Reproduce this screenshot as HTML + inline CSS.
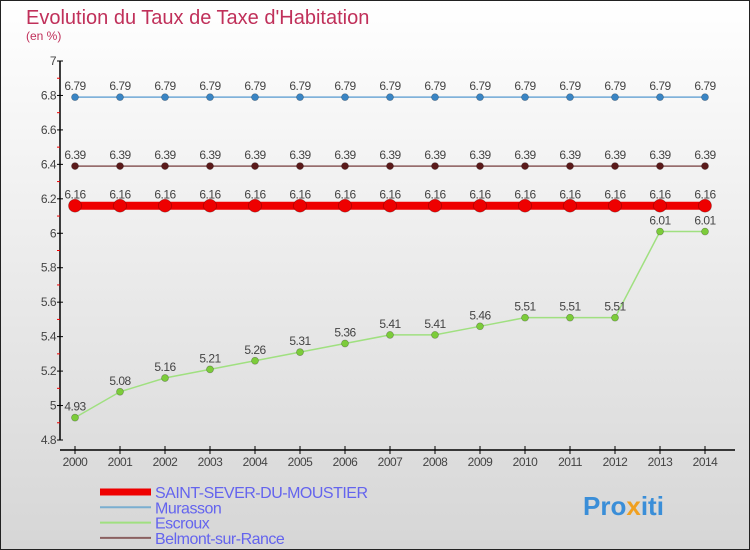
<!DOCTYPE html>
<html><head><meta charset="utf-8"><style>
body{margin:0}
#c{width:750px;height:550px;position:relative;background:linear-gradient(#ffffff,#d6d6d6);box-sizing:border-box;border:1px solid #222;overflow:hidden;font-family:"Liberation Sans","DejaVu Sans",sans-serif}
</style></head><body>
<div id="c">
<svg id="s" width="750" height="550" style="position:absolute;left:-1px;top:-1px">
<text x="26" y="24" font-size="20" fill="#c0305a">Evolution du Taux de Taxe d'Habitation</text>
<text x="26" y="40" font-size="12" fill="#c0305a">(en %)</text>
<g id="axes"></g><g id="series"></g><g id="legend"></g>
<text x="583" y="515" font-size="26" font-weight="bold" fill="#3a8ed8">Pro<tspan fill="#f0a020">x</tspan>iti</text>
</svg>
</div>
<script>
const years=[2000,2001,2002,2003,2004,2005,2006,2007,2008,2009,2010,2011,2012,2013,2014];
const yTicks=[4.8,5,5.2,5.4,5.6,5.8,6,6.2,6.4,6.6,6.8,7];
const saint=[6.16,6.16,6.16,6.16,6.16,6.16,6.16,6.16,6.16,6.16,6.16,6.16,6.16,6.16,6.16];
const murasson=[6.79,6.79,6.79,6.79,6.79,6.79,6.79,6.79,6.79,6.79,6.79,6.79,6.79,6.79,6.79];
const escroux=[4.93,5.08,5.16,5.21,5.26,5.31,5.36,5.41,5.41,5.46,5.51,5.51,5.51,6.01,6.01];
const belmont=[6.39,6.39,6.39,6.39,6.39,6.39,6.39,6.39,6.39,6.39,6.39,6.39,6.39,6.39,6.39];
const NS='http://www.w3.org/2000/svg';
const X=i=>75+i*45, Y=v=>440-(v-4.8)/2.2*379;
function mk(p,t,a){const e=document.createElementNS(NS,t);for(const k in a)e.setAttribute(k,a[k]);p.appendChild(e);return e;}
const ax=document.getElementById('axes');
let e=mk(ax,'line',{x1:60,y1:61,x2:60,y2:440,stroke:'#000','stroke-width':1.5});

e=mk(ax,'line',{x1:60,y1:450,x2:735,y2:450,stroke:'#000','stroke-width':1.5});

yTicks.forEach((v,i)=>{
 mk(ax,'line',{x1:57,y1:Y(v),x2:63,y2:Y(v),stroke:'#000'});
 const t=mk(ax,'text',{x:56,y:Y(v)+4,'font-size':12,fill:'#444','text-anchor':'end','letter-spacing':'-0.5'});t.textContent=v;
 
 if(i<yTicks.length-1)mk(ax,'line',{x1:57,y1:Y(v+0.1),x2:60,y2:Y(v+0.1),stroke:'#e00'});
});
years.forEach((y,i)=>{
 mk(ax,'line',{x1:X(i),y1:446,x2:X(i),y2:454,stroke:'#000'});
 const t=mk(ax,'text',{x:X(i),y:466,'font-size':12,fill:'#444','text-anchor':'middle','letter-spacing':'-0.5'});t.textContent=y;
 
});
const sg=document.getElementById('series');
function series(vals,color,lw,r,ptColor,name){
 const g=mk(sg,'g',{});
 
 mk(g,'polyline',{points:vals.map((v,i)=>X(i)+','+Y(v)).join(' '),fill:'none',stroke:color,'stroke-width':lw});
 vals.forEach((v,i)=>{
  const c=mk(g,'circle',{cx:X(i),cy:Y(v),r:r,fill:ptColor,stroke:'rgba(0,0,0,0.3)','stroke-width':0.7});
  
  const t=mk(g,'text',{x:X(i),y:Y(v)-7,'font-size':12,fill:'#444','text-anchor':'middle','letter-spacing':'-0.5'});t.textContent=v.toFixed(2).replace(/0$/,'').replace(/\.$/,'');
  
 });
}
series(murasson,'#6fa8d6',1.5,3.5,'#3a85c4','murasson');
series(belmont,'#8a5a5a',1.5,3.5,'#5a1a1a','belmont');
series(escroux,'#a0e080',1.5,3.5,'#7ccc3a','escroux');
series(saint,'#ee0000',8,6.5,'#ee0000','saint-sever');
const lg=document.getElementById('legend');
[['SAINT-SEVER-DU-MOUSTIER','#ee0000',7],['Murasson','#7aaed0',2],['Escroux','#a0e080',2],['Belmont-sur-Rance','#8a6060',2]].forEach((d,i)=>{
 const y=492+i*15.3;
 const g=mk(lg,'g',{});
 
 mk(g,'line',{x1:100,y1:y,x2:151,y2:y,stroke:d[1],'stroke-width':d[2]});
 const t=mk(g,'text',{x:155,y:y+6,'font-size':16,fill:'#6464ee','letter-spacing':'-0.5'});t.textContent=d[0];
});
</script>
</body></html>
